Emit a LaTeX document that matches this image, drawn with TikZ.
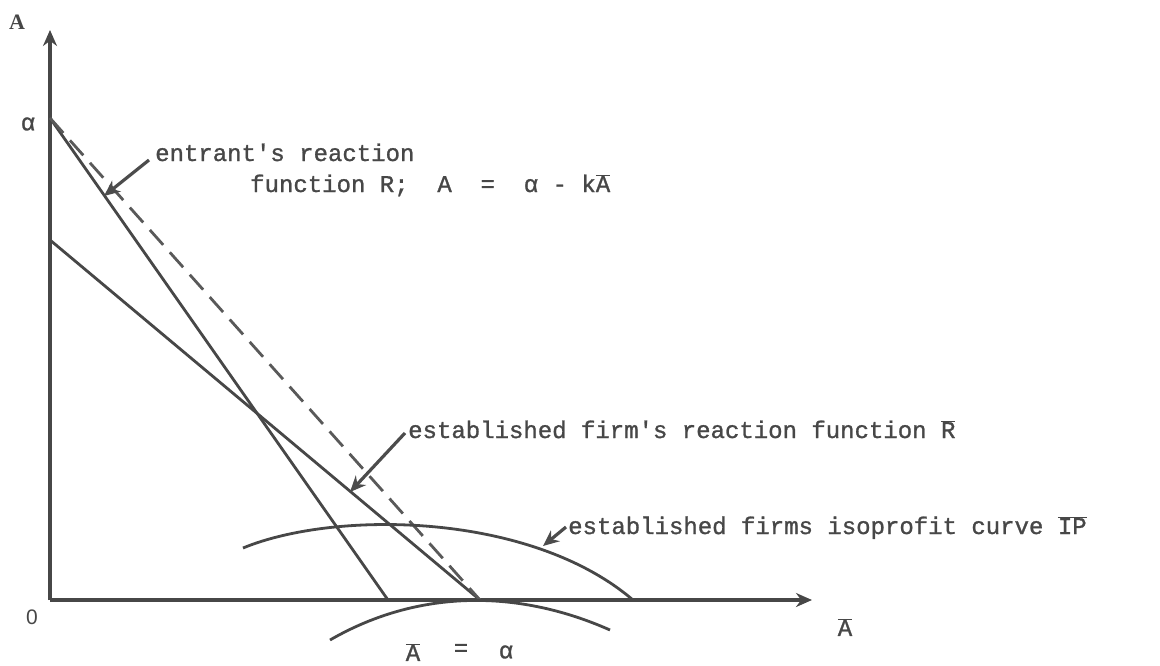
\documentclass[tikz,border=0pt]{standalone}
\usepackage{fontspec}
\newfontfamily\tw[FakeBold=1.1]{Liberation Mono}
\newfontfamily\serifA{Liberation Serif}
\newfontfamily\sansO{Liberation Sans}
\usetikzlibrary{arrows.meta}
\newcommand{\ob}[1]{\ensuremath{\overline{\hbox{#1}}}}
\tikzset{
  curve/.style={draw=black!72, line width=2.8pt},
  axis/.style={draw=black!72, line width=3.2pt, -{Stealth[length=16pt,width=14pt]}},
  dashline/.style={draw=black!65, line width=2.8pt, dash pattern=on 20pt off 10pt},
  pointer/.style={draw=black!70, line width=3.2pt, -{Stealth[length=16pt,width=14pt]}},
  lbl/.style={text=black!72, font=\tw\fontsize{24}{28}\selectfont, inner sep=0pt, anchor=base west},
  sym/.style={text=black!72, font=\tw\fontsize{24}{28}\selectfont},
}
\begin{document}
\begin{tikzpicture}[x=1pt,y=-1pt]
\useasboundingbox (0,0) rectangle (1160,665);
% axes
\coordinate (O) at (50,600);
\coordinate (ytip) at (50,30);
\coordinate (xtip) at (812,600);
\draw[axis] (O) -- (ytip);
\draw[axis] (O) -- (xtip);
\node[text=black!72, font=\serifA\bfseries\fontsize{22}{26}\selectfont] (Alab) at (17,22) {A};
\node[text=black!72, font=\sansO\fontsize{21}{25}\selectfont] (Olab) at (32,617) {0};
\node[sym] (alab) at (28,124) {α};
\node[sym] (Abarlab) at (845,627) {\ob{A}};
% points
\coordinate (alpha) at (50,118);
\coordinate (b) at (50,240);
\coordinate (s1) at (388,600);
\coordinate (s2) at (480,600);
% lines
\draw[curve] (alpha) -- (s1);
\draw[curve] (b) -- (s2);
\draw[dashline] (alpha) -- (s2);
% isoprofit curves
\coordinate (u1) at (243,548);
\coordinate (u2) at (633,600);
\draw[curve] (u1) .. controls (335,510) and (530,512) .. (u2);
\coordinate (l1) at (330,640);
\coordinate (l2) at (610,630);
\draw[curve] (l1) .. controls (420,588) and (520,590) .. (l2);
% bottom label
\node[sym] (eqA) at (413,652) {\ob{A}};
\node[sym] (eqS) at (461,650) {=};
\node[sym] (eqa) at (506,652) {α};
% labels
\node[lbl] (t1) at (155,161) {entrant's reaction};
\node[lbl] (t2) at (250,192) {function R;~~A~~=~~α - k\ob{A}};
\node[lbl] (t3) at (408,438) {established firm's reaction function \ob{R}};
\node[lbl] (t4) at (568,534) {established firms isoprofit curve \ob{IP}};
% pointers
\coordinate (p1s) at (149,160);
\coordinate (p1e) at (104,196);
\draw[pointer] (p1s) -- (p1e);
\coordinate (p2s) at (405,433);
\coordinate (p2e) at (350,492);
\draw[pointer] (p2s) -- (p2e);
\coordinate (p3s) at (566,527);
\coordinate (p3e) at (543,546);
\draw[pointer] (p3s) -- (p3e);
\end{tikzpicture}
\end{document}
